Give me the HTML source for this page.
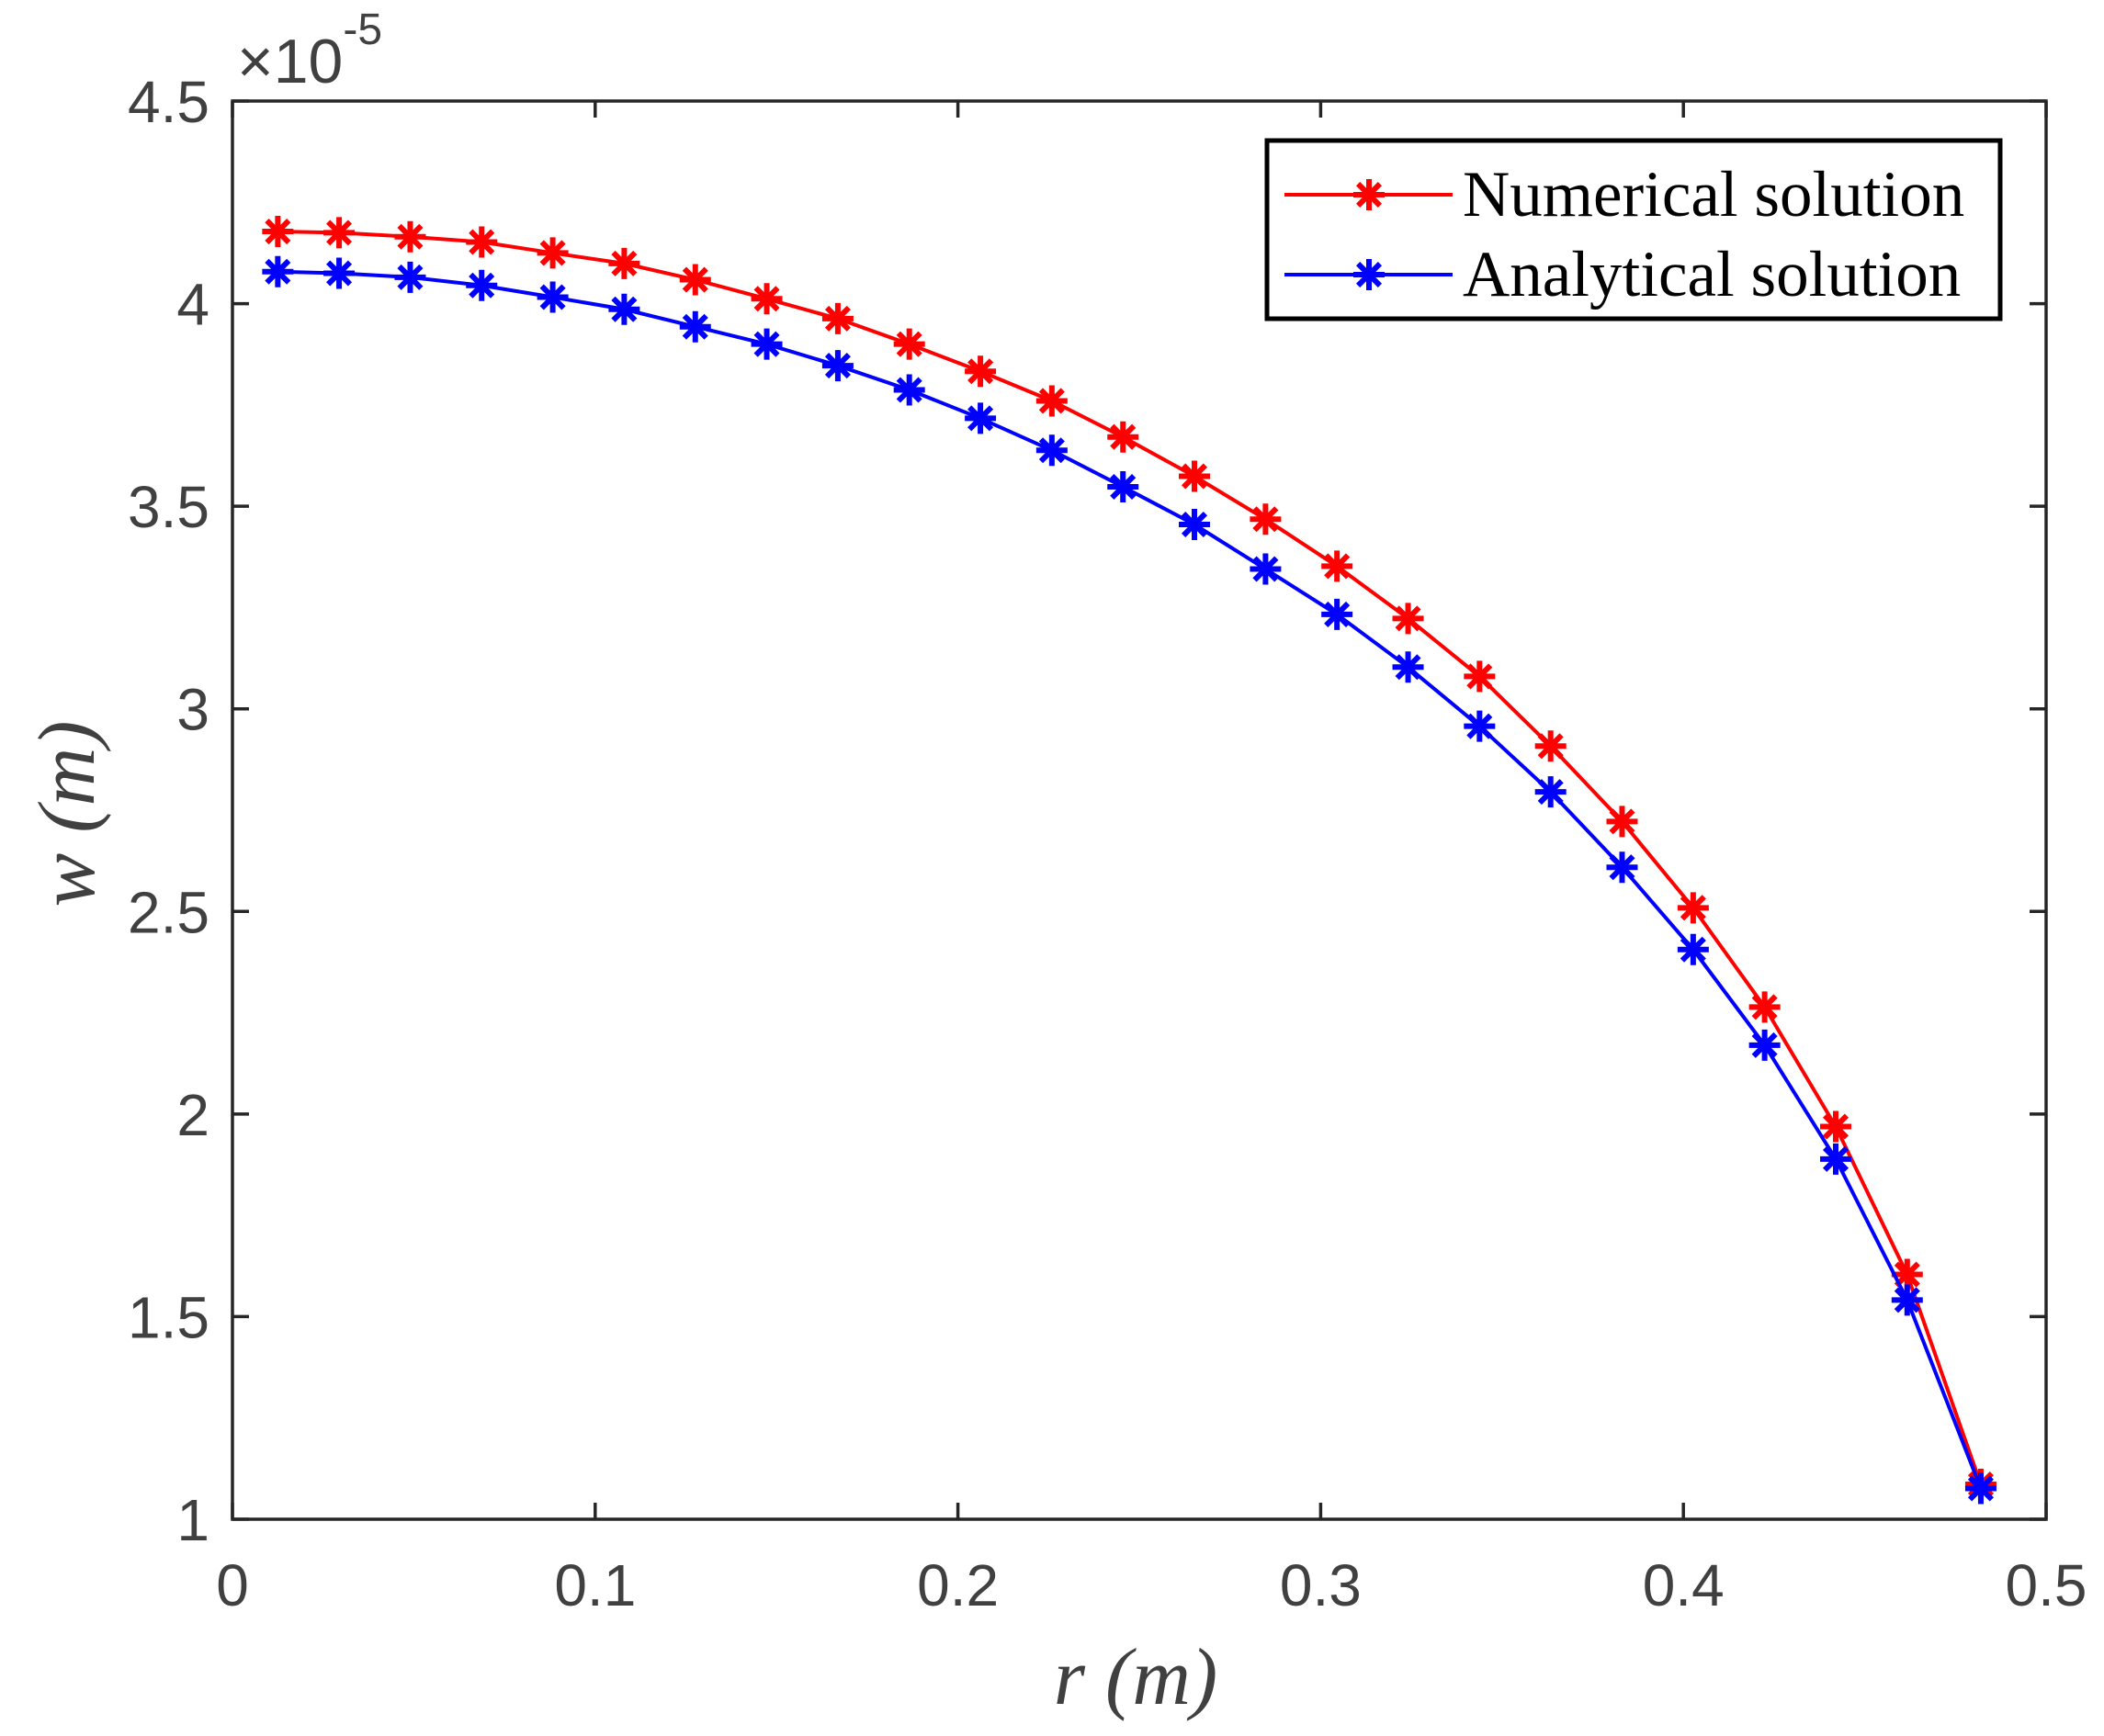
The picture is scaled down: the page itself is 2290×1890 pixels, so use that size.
<!DOCTYPE html>
<html><head><meta charset="utf-8"><style>
html,body{margin:0;padding:0;background:#fff;}
svg{display:block;}
</style></head><body>
<svg id="chart" width="2290" height="1890" viewBox="0 0 2290 1890" xmlns="http://www.w3.org/2000/svg">
<rect x="0" y="0" width="2290" height="1890" fill="#fff"/>
<g id="axes"></g>
<g id="series"></g>
<g id="legend"></g>
</svg>
<script>
const xTicks = [0, 0.1, 0.2, 0.3, 0.4, 0.5];
const xTickLabels = ["0", "0.1", "0.2", "0.3", "0.4", "0.5"];
const yTicks = [1, 1.5, 2, 2.5, 3, 3.5, 4, 4.5];
const yTickLabels = ["1", "1.5", "2", "2.5", "3", "3.5", "4", "4.5"];
const rValues = [0.0125,0.0294,0.0490,0.0687,0.0883,0.1080,0.1276,0.1473,0.1669,0.1866,0.2062,0.2259,0.2455,0.2652,0.2848,0.3045,0.3241,0.3438,0.3634,0.3831,0.4027,0.4224,0.4420,0.4617,0.4820];
const numerical = [4.178,4.175,4.165,4.152,4.125,4.099,4.059,4.012,3.963,3.900,3.833,3.760,3.671,3.574,3.468,3.352,3.223,3.080,2.908,2.722,2.509,2.264,1.969,1.604,1.086];
const analytical = [4.079,4.075,4.065,4.045,4.016,3.986,3.943,3.900,3.847,3.787,3.717,3.638,3.548,3.455,3.345,3.233,3.103,2.957,2.795,2.609,2.406,2.170,1.889,1.541,1.076];

const NS = "http://www.w3.org/2000/svg";
const L = 253, R = 2227, T = 110, B = 1654;
const xMin = 0, xMax = 0.5, yMin = 1, yMax = 4.5;
function sx(v){ return L + (v - xMin) / (xMax - xMin) * (R - L); }
function sy(v){ return B - (v - yMin) / (yMax - yMin) * (B - T); }
function mk(tag, attrs, parent){
  const e = document.createElementNS(NS, tag);
  for (const k in attrs) e.setAttribute(k, attrs[k]);
  parent.appendChild(e);
  return e;
}
const axes = document.getElementById('axes');
const AX = "#262626";
for (let i = 0; i < xTicks.length; i++) {
  const x = sx(xTicks[i]);
  const t1 = mk('line', {x1:x, y1:B, x2:x, y2:B-18, stroke:AX, 'stroke-width':3.5}, axes);
  
  
  const t2 = mk('line', {x1:x, y1:T, x2:x, y2:T+18, stroke:AX, 'stroke-width':3.5}, axes);
  
  
  const lb = mk('text', {x:x, y:1748, 'text-anchor':'middle', 'font-family':'Liberation Sans, sans-serif', 'font-size':64, fill:'#404040'}, axes);
  lb.textContent = xTickLabels[i];
  
  
}
for (let i = 0; i < yTicks.length; i++) {
  const y = sy(yTicks[i]);
  const t1 = mk('line', {x1:L, y1:y, x2:L+18, y2:y, stroke:AX, 'stroke-width':3.5}, axes);
  
  
  const t2 = mk('line', {x1:R, y1:y, x2:R-18, y2:y, stroke:AX, 'stroke-width':3.5}, axes);
  
  
  const lb = mk('text', {x:228, y:y+23, 'text-anchor':'end', 'font-family':'Liberation Sans, sans-serif', 'font-size':64, fill:'#404040'}, axes);
  lb.textContent = yTickLabels[i];
  
  
}
const box = mk('rect', {x:L, y:T, width:R-L, height:B-T, fill:'none', stroke:AX, 'stroke-width':3.5}, axes);


const ex = mk('text', {x:258, y:90, 'font-family':'Liberation Sans, sans-serif', 'font-size':68, fill:'#404040'}, axes);
ex.innerHTML = '×10<tspan dy="-42" font-size="48">-5</tspan>';


const xt = mk('text', {x:1236, y:1855, 'text-anchor':'middle', 'font-family':'Liberation Serif, serif', 'font-size':88, 'font-style':'italic', fill:'#404040'}, axes);
xt.textContent = 'r (m)';


const yt = mk('text', {x:0, y:0, 'text-anchor':'middle', 'font-family':'Liberation Serif, serif', 'font-size':88, 'font-style':'italic', fill:'#404040', transform:'translate(102,886) rotate(-90)'}, axes);
yt.textContent = 'w (m)';



function star(g, cx, cy, color){
  const r = 17;
  const d = `M${cx-r},${cy}H${cx+r}M${cx},${cy-r}V${cy+r}M${cx-r*0.7},${cy-r*0.7}L${cx+r*0.7},${cy+r*0.7}M${cx-r*0.7},${cy+r*0.7}L${cx+r*0.7},${cy-r*0.7}`;
  return mk('path', {d:d, stroke:color, 'stroke-width':6, fill:'none'}, g);
}
const series = document.getElementById('series');
function drawSeries(vals, color, name){
  const g = mk('g', {}, series);
  
  
  const pts = rValues.map((r,i)=> sx(r)+','+sy(vals[i])).join(' ');
  const pl = mk('polyline', {points:pts, fill:'none', stroke:color, 'stroke-width':4}, g);
  
  
  for (let i = 0; i < rValues.length; i++) {
    const m = star(g, sx(rValues[i]), sy(vals[i]), color);
    
    
  }
}
drawSeries(numerical, '#ff0000', 'numerical-series');
drawSeries(analytical, '#0000ff', 'analytical-series');

const lg = document.getElementById('legend');


const lb = mk('rect', {x:1379, y:153, width:798, height:194, fill:'#fff', stroke:'#000', 'stroke-width':5}, lg);


const entries = [['Numerical solution','#ff0000',212],['Analytical solution','#0000ff',299]];
for (const [txt,col,y] of entries) {
  const ln = mk('line', {x1:1398, y1:y, x2:1581, y2:y, stroke:col, 'stroke-width':4}, lg);
  
  
  const m = star(lg, 1490, y, col);
  
  
  const t = mk('text', {x:1592, y:y+23, 'font-family':'Liberation Serif, serif', 'font-size':71, fill:'#000'}, lg);
  t.textContent = txt;
  
  
}
</script>
</body></html>
